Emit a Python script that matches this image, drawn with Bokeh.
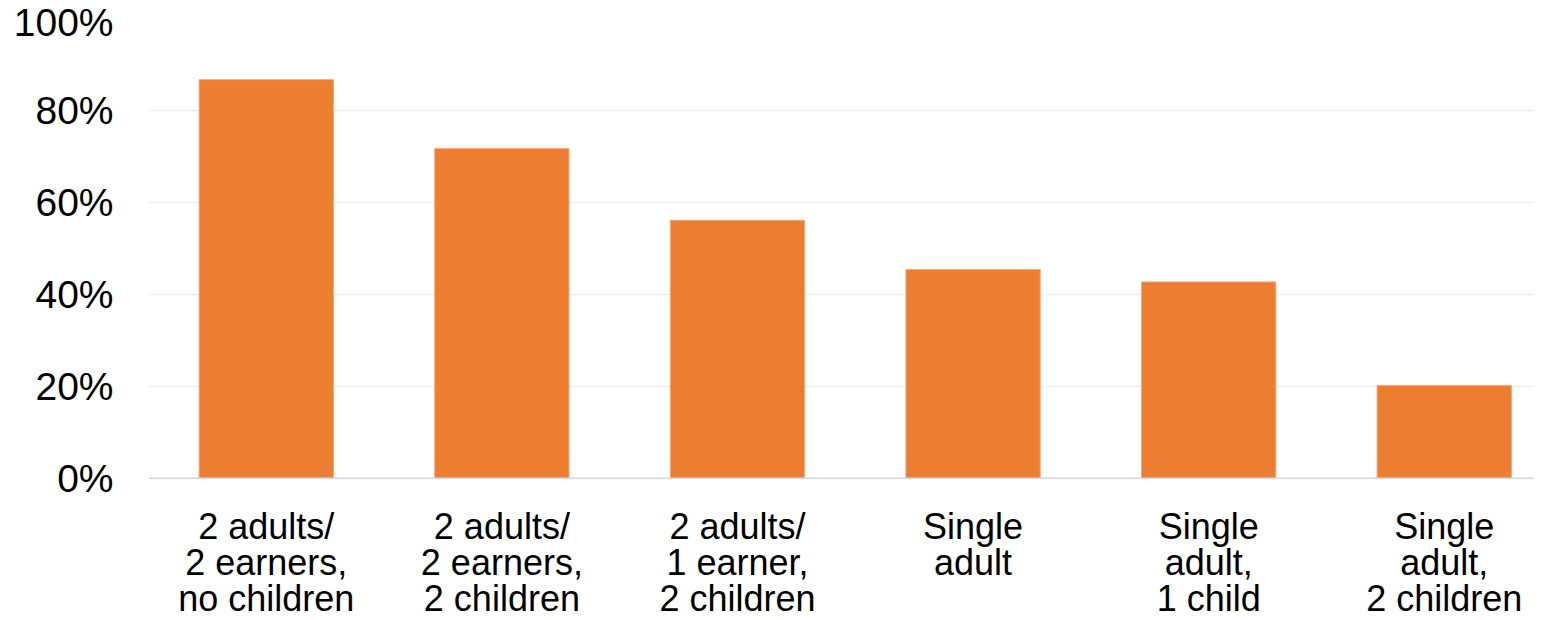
from bokeh.plotting import figure
from bokeh.models import Range1d, FixedTicker, PrintfTickFormatter, Span
from bokeh.core.properties import value
from bokeh.embed import file_html
from bokeh.resources import INLINE

categories = [
    "2 adults/\n2 earners,\nno children",
    "2 adults/\n2 earners,\n2 children",
    "2 adults/\n1 earner,\n2 children",
    "Single\nadult",
    "Single\nadult,\n1 child",
    "Single\nadult,\n2 children",
]
values = [86.7, 71.7, 56.1, 45.4, 42.7, 20.2]
y_ticks = [0, 20, 40, 60, 80, 100]

positions = [i + 0.5 for i in range(len(categories))]

p = figure(width=1534, height=618, output_backend="svg", toolbar_location=None,
           x_range=Range1d(0, 5.883), y_range=Range1d(-30.5, 100),
           min_border_left=148, min_border_right=0, min_border_top=18, min_border_bottom=0)
p.outline_line_color = None

p.vbar(x=positions, top=values, width=0.57, bottom=0, color="#ED7D31", line_color="#F4A878", line_width=1)

p.add_layout(Span(location=0, dimension="width", line_color="#d9d9d9", line_width=1.5))

font = "Liberation Sans"
split = [c.split("\n") for c in categories]
n_lines = max(len(s) for s in split)
line_step = 36
for k in range(n_lines):
    row = [s[k] if k < len(s) else "" for s in split]
    p.text(x=positions, y=0, text=row, y_offset=28 + line_step * k, text_align="center",
           text_baseline="top", text_font=value(font), text_font_size="36px", text_color="black")

p.xaxis.visible = False

p.yaxis.ticker = FixedTicker(ticks=y_ticks)
p.yaxis.formatter = PrintfTickFormatter(format="%d%%")
p.yaxis.major_label_text_font = font
p.yaxis.major_label_text_font_size = "39px"
p.yaxis.major_label_text_color = "black"
p.yaxis.major_label_standoff = 29
p.yaxis.major_tick_line_color = None
p.yaxis.minor_tick_line_color = None
p.yaxis.axis_line_color = None

p.xgrid.grid_line_color = None
p.ygrid.ticker = FixedTicker(ticks=y_ticks)
p.ygrid.grid_line_color = "#efefef"
p.ygrid.grid_line_width = 1.5

open("out.html", "w").write(file_html(p, INLINE))
